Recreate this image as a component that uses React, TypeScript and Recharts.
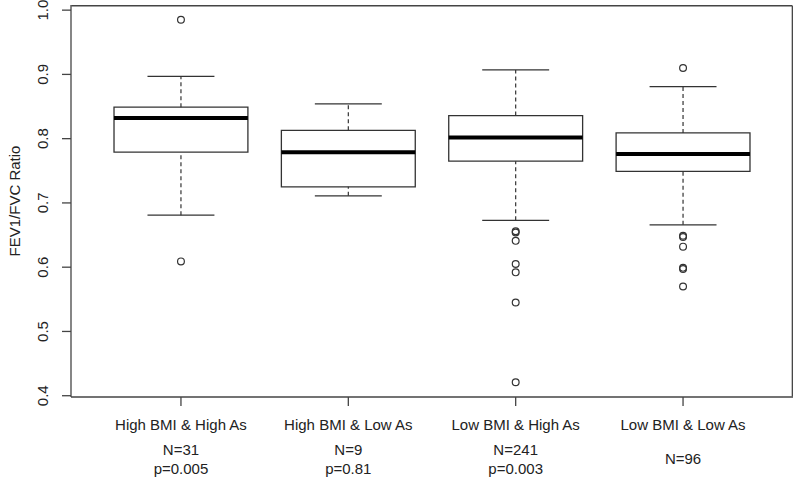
import React from 'react';
import { ComposedChart, XAxis, YAxis, Scatter, ReferenceArea, ReferenceLine } from 'recharts';

const groups = ['High BMI & High As', 'High BMI & Low As', 'Low BMI & High As', 'Low BMI & Low As'];
const nLabels = ['N=31', 'N=9', 'N=241', 'N=96'];
const pLabels = ['p=0.005', 'p=0.81', 'p=0.003', ''];
const lowerWhisker = [0.681, 0.711, 0.673, 0.666];
const q1 = [0.779, 0.725, 0.765, 0.749];
const median = [0.832, 0.779, 0.802, 0.776];
const q3 = [0.849, 0.813, 0.836, 0.809];
const upperWhisker = [0.897, 0.854, 0.907, 0.881];
const outliers = [
  [0.985, 0.609],
  [],
  [0.656, 0.654, 0.641, 0.605, 0.592, 0.545, 0.421],
  [0.91, 0.649, 0.647, 0.632, 0.599, 0.597, 0.57],
];
const yTicks = [0.4, 0.5, 0.6, 0.7, 0.8, 0.9, 1.0];
const xTicks = [1, 2, 3, 4];
const xDomain = [0.343, 4.657];
const yDomain = [0.398, 1.008];

const BOX_HALF = 0.4;
const CAP_HALF = 0.2;
const LINE = '#333';
const FRAME = '#444';
const FONT = '"Liberation Sans", Arial, Helvetica, sans-serif';

const outlierPts = outliers.flatMap((arr, i) => arr.map((v) => ({ x: i + 1, y: v })));

const XTick = (props: any) => {
  const { x, payload } = props;
  const i = Math.round(payload.value) - 1;
  const base = 397;
  return (
    <g fontFamily={FONT} fontSize={15} fill="#222">
      <text x={x} y={base + 33} textAnchor="middle" fill="#222">{groups[i]}</text>
      {pLabels[i] ? (
        <>
          <text x={x} y={base + 58} textAnchor="middle" fill="#222">{nLabels[i]}</text>
          <text x={x} y={base + 77} textAnchor="middle" fill="#222">{pLabels[i]}</text>
        </>
      ) : (
        <text x={x} y={base + 67} textAnchor="middle" fill="#222">{nLabels[i]}</text>
      )}
    </g>
  );
};

const YTick = (props: any) => {
  const { y, payload } = props;
  const cx = 43;
  return (
    <text
      x={cx}
      y={y}
      transform={`rotate(-90 ${cx} ${y})`}
      textAnchor="middle"
      dominantBaseline="central"
      fontFamily={FONT}
      fontSize={15}
      fill="#222"
    >
      {Number(payload.value).toFixed(1)}
    </text>
  );
};

const YLabel = (props: any) => {
  const vb = props.viewBox || {};
  const cx = 14;
  const cy = (vb.y ?? 5) + (vb.height ?? 392) / 2;
  return (
    <text
      x={cx}
      y={cy}
      transform={`rotate(-90 ${cx} ${cy})`}
      textAnchor="middle"
      dominantBaseline="central"
      fontFamily={FONT}
      fontSize={15}
      fill="#222"
    >
      FEV1/FVC Ratio
    </text>
  );
};

const Outlier = (props: any) => {
  const { cx, cy } = props;
  return <circle cx={cx} cy={cy} r={3.4} fill="none" stroke={LINE} strokeWidth={1.2} />;
};

export default function App() {
  return (
    <div style={{ position: 'absolute', left: 0, top: 0, width: 800, height: 480, background: '#fff' }}>
      <ComposedChart width={800} height={480} margin={{ top: 5, right: 7, bottom: 0, left: 0 }}>
        <XAxis
          dataKey="x"
          type="number"
          domain={xDomain}
          allowDataOverflow
          ticks={xTicks}
          interval={0}
          height={83}
          tickSize={9}
          tickMargin={0}
          tick={<XTick />}
          stroke={FRAME}
          axisLine={{ stroke: FRAME, strokeWidth: 1.3 }}
          tickLine={{ stroke: FRAME, strokeWidth: 1.3 }}
        />
        <YAxis
          dataKey="y"
          type="number"
          domain={yDomain}
          allowDataOverflow
          ticks={yTicks}
          interval={0}
          width={71}
          tickSize={9}
          tickMargin={0}
          tick={<YTick />}
          axisLine={{ stroke: FRAME, strokeWidth: 1.3 }}
          tickLine={{ stroke: FRAME, strokeWidth: 1.3 }}
          label={<YLabel />}
        />
        <React.Fragment key="frame">
          <ReferenceLine
            segment={[{ x: xDomain[0] + 0.002, y: yDomain[1] - 0.0012 }, { x: xDomain[1] - 0.004, y: yDomain[1] - 0.0012 }]}
            stroke={FRAME}
            strokeWidth={1.3}
          />
          <ReferenceLine
            segment={[{ x: xDomain[1] - 0.004, y: yDomain[0] + 0.0008 }, { x: xDomain[1] - 0.004, y: yDomain[1] - 0.0012 }]}
            stroke={FRAME}
            strokeWidth={1.3}
          />
        </React.Fragment>
        {groups.map((g, i) => {
          const pos = i + 1;
          return (
            <React.Fragment key={g}>
              <ReferenceLine
                segment={[{ x: pos, y: q3[i] }, { x: pos, y: upperWhisker[i] }]}
                stroke={LINE}
                strokeWidth={1.2}
                strokeDasharray="4 3"
              />
              <ReferenceLine
                segment={[{ x: pos, y: lowerWhisker[i] }, { x: pos, y: q1[i] }]}
                stroke={LINE}
                strokeWidth={1.2}
                strokeDasharray="4 3"
              />
              <ReferenceLine
                segment={[{ x: pos - CAP_HALF, y: upperWhisker[i] }, { x: pos + CAP_HALF, y: upperWhisker[i] }]}
                stroke={LINE}
                strokeWidth={1.3}
              />
              <ReferenceLine
                segment={[{ x: pos - CAP_HALF, y: lowerWhisker[i] }, { x: pos + CAP_HALF, y: lowerWhisker[i] }]}
                stroke={LINE}
                strokeWidth={1.3}
              />
              <ReferenceArea
                x1={pos - BOX_HALF}
                x2={pos + BOX_HALF}
                y1={q1[i]}
                y2={q3[i]}
                fill="#fff"
                fillOpacity={0}
                stroke={LINE}
                strokeWidth={1.3}
              />
              <ReferenceLine
                segment={[{ x: pos - BOX_HALF, y: median[i] }, { x: pos + BOX_HALF, y: median[i] }]}
                stroke="#000"
                strokeWidth={4}
              />
            </React.Fragment>
          );
        })}
        <Scatter data={outlierPts} shape={<Outlier />} isAnimationActive={false} />
      </ComposedChart>
    </div>
  );
}
